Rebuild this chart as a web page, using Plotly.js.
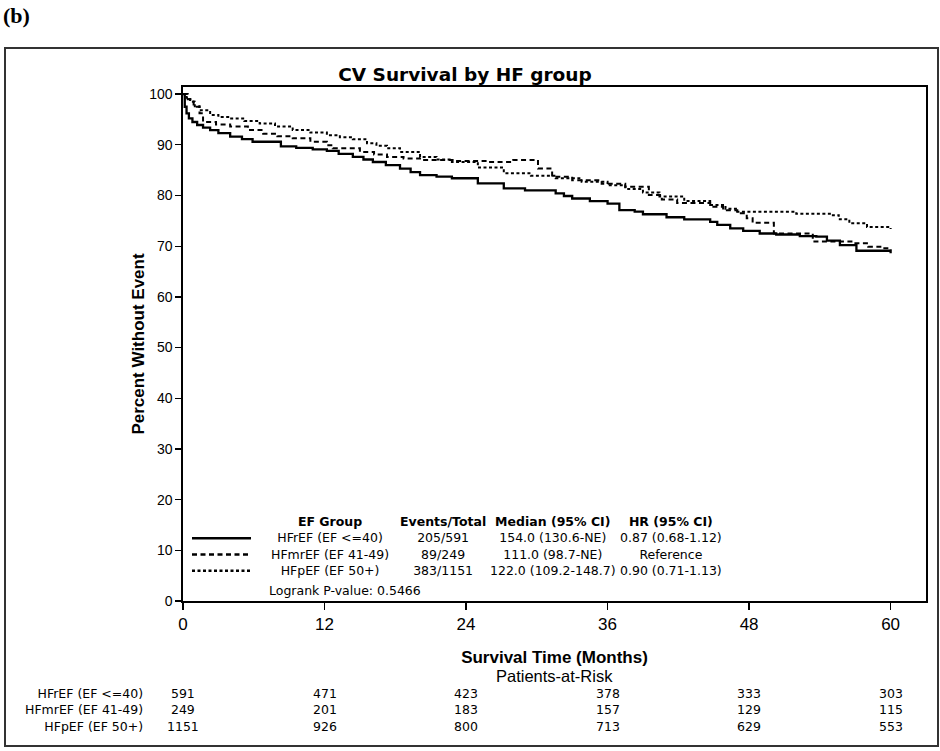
<!DOCTYPE html>
<html>
<head>
<meta charset="utf-8">
<script src="https://cdn.plot.ly/plotly-3.0.1.min.js"></script>
<style>html,body{margin:0;padding:0;background:#fff;}#chart{width:940px;height:751px;}</style>
</head>
<body>
<div id="chart"></div>
<script>
// ---- Data ----
const groupNames = ['HFrEF (EF <=40)', 'HFmrEF (EF 41-49)', 'HFpEF (EF 50+)'];
const eventsTotal = ['205/591', '89/249', '383/1151'];
const medianCI = ['154.0 (130.6-NE)', '111.0 (98.7-NE)', '122.0 (109.2-148.7)'];
const hrCI = ['0.87 (0.68-1.12)', 'Reference', '0.90 (0.71-1.13)'];
const legendHeaders = ['EF Group', 'Events/Total', 'Median (95% CI)', 'HR (95% CI)'];
const logrankText = 'Logrank P-value: 0.5466';

// Kaplan-Meier step points: HFrEF (solid)
const hfrefTime = [0, 0.15, 0.3, 0.5, 0.8, 1.2, 1.7, 2.3, 3.0, 4.0, 5.0, 5.9, 8.3, 9.6, 11.0, 12.2, 13.2, 14.4, 15.3, 16.1, 17.2, 18.4, 19.3, 20.1, 21.5, 22.8, 25.0, 27.2, 29.0, 31.6, 32.3, 33.0, 34.5, 36.0, 37.0, 38.3, 39.0, 41.0, 42.5, 44.7, 45.3, 46.4, 47.5, 48.9, 50.3, 52.3, 53.7, 54.6, 55.7, 57.1, 60.0];
const hfrefSurv = [100, 97.5, 96.2, 95.2, 94.5, 93.9, 93.4, 92.9, 92.3, 91.6, 91.1, 90.6, 89.7, 89.4, 89.1, 88.8, 88.2, 87.6, 87.1, 86.6, 86.0, 85.3, 84.6, 84.0, 83.7, 83.4, 82.4, 81.4, 81.0, 80.4, 79.9, 79.4, 78.9, 78.4, 77.1, 76.8, 76.3, 75.7, 75.3, 74.8, 74.2, 73.5, 73.0, 72.5, 72.3, 72.0, 71.9, 71.1, 70.2, 69.1, 68.6];

// HFmrEF (dashed)
const hfmrefTime = [0, 0.4, 0.9, 1.4, 1.7, 2.8, 4.0, 5.5, 6.8, 8.0, 9.3, 10.8, 12.2, 12.7, 15.0, 16.2, 17.3, 18.7, 20.1, 23.0, 25.8, 28.0, 30.1, 31.3, 33.0, 35.5, 37.5, 39.5, 40.6, 41.9, 44.7, 45.8, 47.0, 47.8, 48.3, 50.1, 53.4, 56.8, 58.1, 59.3, 60.0];
const hfmrefSurv = [100, 99.0, 97.5, 96.2, 94.5, 94.0, 93.6, 92.9, 92.2, 91.7, 91.3, 90.6, 89.9, 89.3, 88.6, 88.1, 87.6, 87.3, 87.0, 86.8, 86.6, 87.0, 85.3, 83.7, 83.0, 82.3, 81.7, 80.1, 79.2, 78.5, 77.8, 77.1, 76.5, 75.5, 74.6, 72.5, 70.9, 70.6, 69.9, 69.6, 69.2];

// HFpEF (dotted)
const hfpefTime = [0, 0.3, 0.6, 1.0, 1.4, 2.3, 3.0, 4.0, 5.2, 6.5, 7.8, 9.3, 10.8, 12.2, 13.3, 14.4, 15.6, 16.4, 17.3, 18.4, 20.1, 21.5, 22.8, 25.0, 27.2, 29.5, 31.6, 33.8, 36.0, 37.5, 39.0, 40.4, 42.5, 44.7, 46.0, 47.0, 52.0, 55.0, 55.6, 56.5, 58.0, 60.0];
const hfpefSurv = [100, 99.3, 98.5, 97.6, 96.8, 95.9, 95.5, 95.2, 94.7, 94.2, 93.6, 92.9, 92.4, 91.9, 91.5, 91.1, 90.3, 89.8, 89.3, 88.6, 87.6, 87.1, 86.6, 85.5, 84.4, 83.9, 83.4, 82.7, 82.0, 81.3, 80.6, 79.8, 78.9, 78.1, 77.4, 76.8, 76.4, 76.1, 75.3, 74.5, 73.8, 73.4];

// Patients-at-risk table
const atRiskTitle = 'Patients-at-Risk';
const atRiskTimes = [0, 12, 24, 36, 48, 60];
const atRiskHFrEF = [591, 471, 423, 378, 333, 303];
const atRiskHFmrEF = [249, 201, 183, 157, 129, 115];
const atRiskHFpEF = [1151, 926, 800, 713, 629, 553];

const xTicks = [0, 12, 24, 36, 48, 60];
const yTicks = [0, 10, 20, 30, 40, 50, 60, 70, 80, 90, 100];

// ---- Layout geometry (pixels) ----
const W = 940, Hh = 751;
const L = 183, R = 926, T = 87, B = 601;
const PW = R - L, PH = B - T;
const px = v => (v - L) / PW;      // pixel x -> paper x
const py = v => (B - v) / PH;      // pixel y -> paper y

const dashStyles = ['solid', '5px,3.5px', '3px,2.5px'];
const lineW = [2.3, 2.0, 2.0];

const seriesT = [hfrefTime, hfmrefTime, hfpefTime];
const seriesS = [hfrefSurv, hfmrefSurv, hfpefSurv];

const traces = groupNames.map((name, i) => ({
  type: 'scatter', mode: 'lines', name: name,
  x: seriesT[i], y: seriesS[i],
  line: {shape: 'hv', color: '#000', width: lineW[i], dash: dashStyles[i]},
  hoverinfo: 'x+y+name', showlegend: false
}));

const sans = 'Liberation Sans, Arial, sans-serif';
const tblFamily = 'DejaVu Sans, Noto Sans, sans-serif';
const tblSize = 12.5;
const tblLine = 1.3 * tblSize;   // Plotly line spacing
const tblFont = {family: tblFamily, size: tblSize, color: '#000'};

const annotations = [];
const shapes = [];

// outer frame
shapes.push({type: 'rect', xref: 'paper', yref: 'paper', x0: px(5), x1: px(938), y0: py(746), y1: py(48),
  line: {color: '#333', width: 2}, fillcolor: 'rgba(0,0,0,0)', layer: 'below'});

// panel label
annotations.push({xref: 'paper', yref: 'paper', x: px(1), y: py(15), xanchor: 'left', yanchor: 'middle',
  text: '<b>(b)</b>', showarrow: false, font: {family: 'Liberation Serif, Times New Roman, serif', size: 22, color: '#000'}});

// Legend table inside plot: one multi-line annotation per column
const headerY = 522;
const legCenterY = headerY + 1.5 * tblLine;
const legCols = [
  [330, groupNames], [443, eventsTotal], [553, medianCI], [671, hrCI]
];
legCols.forEach(([cx, vals], k) => {
  annotations.push({xref: 'paper', yref: 'paper', x: px(cx), y: py(legCenterY), xanchor: 'center', yanchor: 'middle',
    align: 'center', text: '<b>' + legendHeaders[k] + '</b><br>' + vals.join('<br>'), showarrow: false, font: tblFont});
});
// legend line samples
groupNames.forEach((g, i) => {
  const yy = py(headerY + (i + 1) * tblLine);
  shapes.push({type: 'line', xref: 'paper', yref: 'paper', x0: px(192), x1: px(251), y0: yy, y1: yy,
    line: {color: '#000', width: lineW[i] + 0.3, dash: dashStyles[i]}});
});
annotations.push({xref: 'paper', yref: 'paper', x: px(267), y: py(590), xanchor: 'left', yanchor: 'middle',
  text: logrankText, showarrow: false, font: tblFont});

// Patients-at-risk header
annotations.push({xref: 'paper', yref: 'paper', x: px(554), y: py(676), xanchor: 'center', yanchor: 'middle',
  text: atRiskTitle, showarrow: false, font: {family: sans, size: 16.5, color: '#000'}});

// at-risk table: labels column + one column per time point
const riskRows = [atRiskHFrEF, atRiskHFmrEF, atRiskHFpEF];
const riskCenterY = 694 + tblLine;
annotations.push({xref: 'paper', yref: 'paper', x: px(145), y: py(riskCenterY), xanchor: 'right', yanchor: 'middle',
  align: 'right', text: groupNames.join('<br>'), showarrow: false, font: tblFont});
atRiskTimes.forEach((t, j) => {
  annotations.push({xref: 'x', yref: 'paper', x: t, y: py(riskCenterY), xanchor: 'center', yanchor: 'middle',
    align: 'center', text: riskRows.map(r => String(r[j])).join('<br>'), showarrow: false, font: tblFont});
});

const layout = {
  width: W, height: Hh,
  margin: {l: L, r: W - R, t: T, b: Hh - B, pad: 0},
  paper_bgcolor: '#fff', plot_bgcolor: '#fff',
  title: {text: '<b>CV Survival by HF group</b>', x: 465 / W, xref: 'container', xanchor: 'center',
    y: 1 - 75 / Hh, yref: 'container', yanchor: 'middle',
    font: {family: tblFamily, size: 18.5, color: '#000'}},
  xaxis: {range: [0, 63], tickvals: xTicks, ticktext: xTicks.map(String), ticks: 'outside', ticklen: 7, tickwidth: 1.3,
    tickcolor: '#000', showline: true, linecolor: '#000', linewidth: 1.6, mirror: true, showgrid: false, zeroline: false,
    tickfont: {family: sans, size: 17, color: '#000'},
    title: {text: '<b>Survival Time (Months)</b>', font: {family: sans, size: 17, color: '#000'}, standoff: 18}},
  yaxis: {range: [0, 101.4], tickvals: yTicks, ticks: 'outside', ticklen: 6, tickwidth: 1.3,
    tickcolor: '#000', showline: true, linecolor: '#000', linewidth: 1.6, mirror: true, showgrid: false, zeroline: false,
    tickfont: {family: sans, size: 14, color: '#000'},
    title: {text: '<b>Percent Without Event</b>', font: {family: sans, size: 17, color: '#000'}, standoff: 0}},
  shapes: shapes,
  annotations: annotations,
  showlegend: false
};

Plotly.newPlot('chart', traces, layout, {displayModeBar: false, staticPlot: true});
</script>
</body>
</html>
